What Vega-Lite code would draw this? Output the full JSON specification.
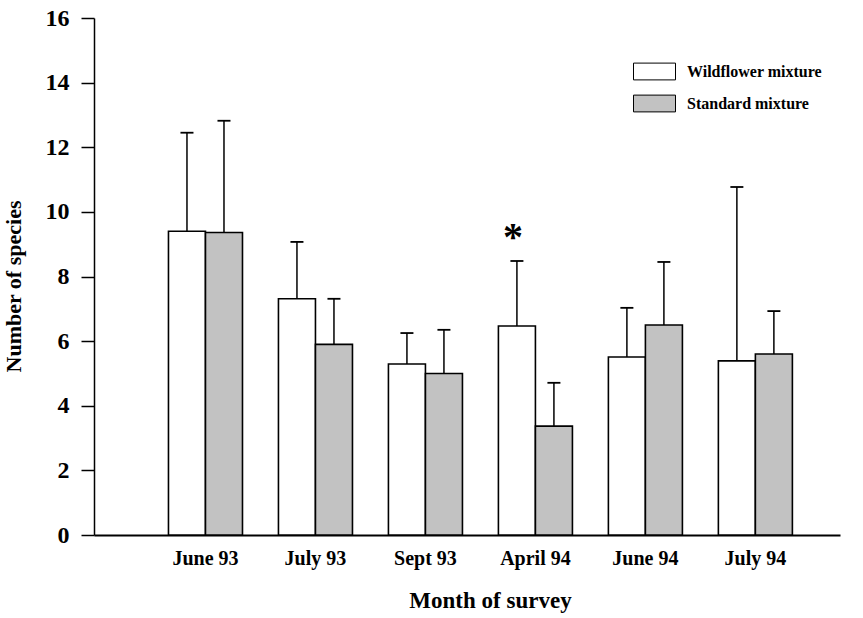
{
  "$schema": "https://vega.github.io/schema/vega-lite/v6.json",
  "width": 746,
  "height": 517,
  "autosize": "none",
  "padding": {"left": 94, "top": 18, "right": 23, "bottom": 83},
  "background": "white",
  "config": {
    "view": {"stroke": null},
    "font": "Liberation Serif",
    "axis": {"grid": false, "domainColor": "black", "tickColor": "black", "labelColor": "black", "titleColor": "black", "labelFont": "Liberation Serif", "titleFont": "Liberation Serif"}
  },
  "data": {
    "values": [
      {"month": "June 93", "mixture": "Wildflower mixture", "mean": 9.4, "upper": 12.45},
      {"month": "June 93", "mixture": "Standard mixture", "mean": 9.36, "upper": 12.82},
      {"month": "July 93", "mixture": "Wildflower mixture", "mean": 7.31, "upper": 9.07},
      {"month": "July 93", "mixture": "Standard mixture", "mean": 5.9, "upper": 7.31},
      {"month": "Sept 93", "mixture": "Wildflower mixture", "mean": 5.29, "upper": 6.25},
      {"month": "Sept 93", "mixture": "Standard mixture", "mean": 5.0, "upper": 6.35},
      {"month": "April 94", "mixture": "Wildflower mixture", "mean": 6.47, "upper": 8.48, "sig": "*"},
      {"month": "April 94", "mixture": "Standard mixture", "mean": 3.37, "upper": 4.71},
      {"month": "June 94", "mixture": "Wildflower mixture", "mean": 5.51, "upper": 7.03},
      {"month": "June 94", "mixture": "Standard mixture", "mean": 6.5, "upper": 8.45},
      {"month": "July 94", "mixture": "Wildflower mixture", "mean": 5.39, "upper": 10.77},
      {"month": "July 94", "mixture": "Standard mixture", "mean": 5.6, "upper": 6.93}
    ]
  },
  "encoding": {
    "x": {
      "field": "month", "type": "nominal",
      "sort": ["June 93", "July 93", "Sept 93", "April 94", "June 94", "July 94"],
      "scale": {"paddingInner": 0.327, "paddingOuter": 0.555, "align": 0.61},
      "axis": {"title": "Month of survey", "labelAngle": 0, "ticks": false, "domainWidth": 2, "labelFontSize": 20, "labelFontWeight": "bold", "labelPadding": 13, "titleFontSize": 23, "titleFontWeight": "bold", "titlePadding": 21, "titleX": 396}
    },
    "xOffset": {
      "field": "mixture", "type": "nominal",
      "sort": ["Wildflower mixture", "Standard mixture"],
      "scale": {"paddingInner": 0, "paddingOuter": 0}
    }
  },
  "layer": [
    {
      "mark": {"type": "rule", "stroke": "black", "strokeWidth": 1.5},
      "encoding": {
        "y": {"field": "mean", "type": "quantitative"},
        "y2": {"field": "upper"}
      }
    },
    {
      "mark": {"type": "tick", "color": "black", "size": 13, "thickness": 1.8, "opacity": 1},
      "encoding": {
        "y": {"field": "upper", "type": "quantitative"}
      }
    },
    {
      "mark": {"type": "bar", "stroke": "black", "strokeWidth": 1.6},
      "encoding": {
        "y": {
          "field": "mean", "type": "quantitative",
          "scale": {"domain": [0, 16], "nice": false},
          "axis": {"title": "Number of species", "values": [0, 2, 4, 6, 8, 10, 12, 14, 16], "domainWidth": 1.5, "tickSize": 13, "tickWidth": 1.5, "labelFontSize": 24, "labelFontWeight": "bold", "labelPadding": 12, "titleFontSize": 22, "titleFontWeight": "bold", "titlePadding": 20, "titleY": 268}
        },
        "fill": {
          "field": "mixture", "type": "nominal",
          "sort": ["Wildflower mixture", "Standard mixture"],
          "scale": {"domain": ["Wildflower mixture", "Standard mixture"], "range": ["white", "#c2c2c2"]},
          "legend": {
            "title": null, "orient": "none", "legendX": 539, "legendY": 32,
            "padding": 0, "symbolType": "M-1,-0.4H1V0.4H-1Z", "symbolSize": 1764,
            "symbolStrokeColor": "black", "symbolStrokeWidth": 1, "rowPadding": -10,
            "labelOffset": 11, "labelFont": "Liberation Serif", "labelFontSize": 16, "labelFontWeight": "bold", "labelColor": "black"
          }
        }
      }
    },
    {
      "transform": [{"filter": "isValid(datum.sig)"}],
      "mark": {"type": "text", "font": "Liberation Serif", "fontWeight": "bold", "fontSize": 40, "baseline": "alphabetic", "dy": -11, "dx": -4, "color": "black"},
      "encoding": {
        "y": {"field": "upper", "type": "quantitative"},
        "text": {"field": "sig"}
      }
    }
  ]
}
